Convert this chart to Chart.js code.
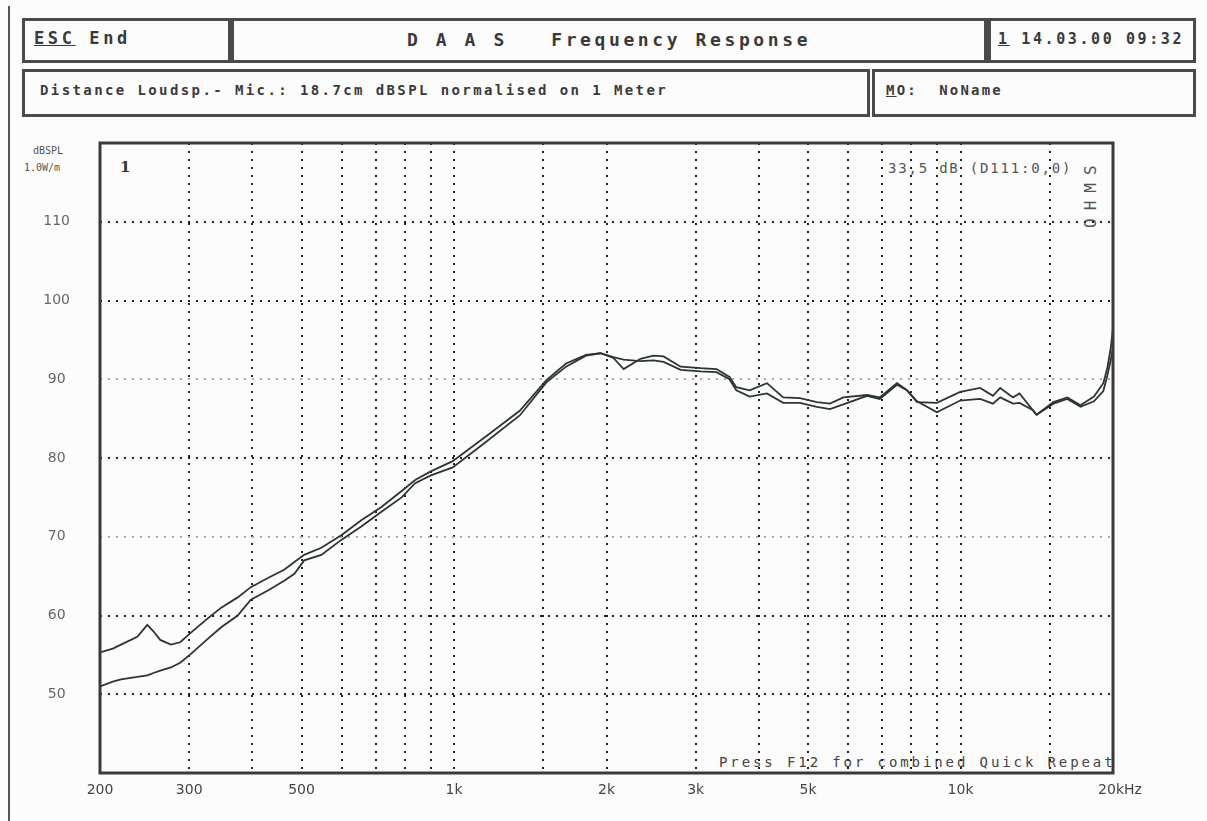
<!DOCTYPE html>
<html>
<head>
<meta charset="utf-8">
<script src="https://cdn.jsdelivr.net/npm/chart.js@4.4.1/dist/chart.umd.min.js"></script>
<style>
  html, body { margin:0; padding:0; background:#fcfcfc; }
  #wrap { position:relative; width:1207px; height:821px; overflow:hidden; font-family:"DejaVu Sans Mono", monospace; color:#3a3a3a; }
  canvas { position:absolute; left:0; top:0; }
  .box { position:absolute; border:3px solid #4a4a4a; box-sizing:border-box; }
  .t { position:absolute; white-space:pre; line-height:1; }
  .outer { position:absolute; left:8px; top:6px; width:2px; height:815px; background:#555; }
</style>
</head>
<body>
<div id="wrap">
  <div class="outer"></div>
  <div class="box" style="left:22px;top:18px;width:211px;height:45px;border-right-width:5px;"></div>
  <div class="box" style="left:231px;top:18px;width:759px;height:45px;border-right-width:6px;"></div>
  <div class="box" style="left:988px;top:18px;width:208px;height:45px;"></div>
  <div class="box" style="left:22px;top:69px;width:848px;height:48px;"></div>
  <div class="box" style="left:872px;top:69px;width:324px;height:48px;"></div>

  <div class="t" style="left:34px;top:30px;font-size:17px;font-weight:bold;letter-spacing:3.6px;"><span style="text-decoration:underline;">ESC</span> End</div>
  <div class="t" id="title" style="left:233px;width:752px;top:31px;font-size:18px;font-weight:bold;letter-spacing:3.6px;text-align:center;">D A A S   Frequency Response</div>
  <div class="t" style="left:998px;top:32px;font-size:15px;font-weight:bold;letter-spacing:2.6px;"><span style="text-decoration:underline;">1</span> 14.03.00 09:32</div>
  <div class="t" style="left:40px;top:83px;font-size:14px;font-weight:bold;letter-spacing:2.4px;">Distance Loudsp.- Mic.: 18.7cm dBSPL normalised on 1 Meter</div>
  <div class="t" style="left:886px;top:83px;font-size:14px;font-weight:bold;letter-spacing:2.2px;"><span style="text-decoration:underline;">M</span>O:  NoName</div>

  <div class="t" style="left:33px;top:146px;font-size:10px;color:#555;">dBSPL</div>
  <div class="t" style="left:24px;top:163px;font-size:10px;color:#555;">1.0W/m</div>
  <div class="t" style="left:120px;top:160px;font-size:15px;font-weight:bold;font-family:'DejaVu Serif',serif;color:#333;">1</div>
  <div class="t" style="left:888px;top:161px;font-size:14px;letter-spacing:1.8px;color:#555;">33,5 dB (D111:0,0)</div>
  <div class="t" style="left:1083px;top:228px;font-size:16px;color:#555;transform:rotate(-90deg);transform-origin:0 0;letter-spacing:8px;">OHMS</div>
  <div class="t" style="left:719px;top:755px;font-size:14px;letter-spacing:2.9px;color:#444;">Press F12 for combined Quick Repeat</div>

  <canvas id="c" width="1207" height="821"></canvas>
</div>
<script>
// ---- data ----
const freqs = [200, 212, 220, 237, 248, 255, 263, 276, 288, 302, 326, 347, 374, 397, 430, 462, 484, 506, 547, 599, 656, 720, 788, 838, 900, 994,
  1154, 1348, 1522, 1664, 1822, 1946, 2064, 2162, 2334, 2476, 2592, 2802, 3070, 3298, 3498, 3608, 3834, 4148, 4466, 4820, 5204, 5524, 5870,
  6538, 6926, 7490, 7838, 8206, 8980, 9984, 10932, 11588, 11976, 12692, 13076, 13880, 14128, 15250, 16250, 17260, 18340, 19140, 19500, 19800, 20000];
const splA = [55.3, 55.8, 56.3, 57.3, 58.8, 58.0, 56.9, 56.3, 56.6, 57.8, 59.6, 61.0, 62.3, 63.6, 64.8, 65.8, 66.8, 67.7, 68.6, 70.2, 72.1, 73.8, 75.8, 77.2, 78.3, 79.6,
  82.7, 86.0, 89.9, 92.0, 93.1, 93.3, 92.7, 91.3, 92.6, 93.0, 92.9, 91.6, 91.4, 91.3, 90.3, 89.0, 88.6, 89.5, 87.7, 87.6, 87.1, 86.9, 87.7,
  88.0, 87.7, 89.5, 88.6, 87.1, 87.0, 88.4, 88.9, 87.9, 88.9, 87.7, 88.2, 86.1, 85.5, 87.1, 87.7, 86.7, 87.8, 89.5, 91.5, 94.0, 96.5];
const splB = [51.0, 51.6, 51.9, 52.2, 52.4, 52.7, 53.0, 53.4, 54.0, 55.1, 57.0, 58.5, 60.0, 62.0, 63.2, 64.4, 65.3, 67.0, 67.7, 69.6, 71.3, 73.2, 75.0, 76.8, 77.8, 78.8,
  82.0, 85.4, 89.6, 91.6, 93.0, 93.3, 92.8, 92.5, 92.3, 92.4, 92.2, 91.2, 91.0, 90.9, 90.0, 88.6, 87.8, 88.2, 87.0, 87.0, 86.5, 86.2, 86.8,
  87.9, 87.5, 89.3, 88.6, 87.2, 85.8, 87.3, 87.5, 86.9, 87.7, 86.9, 87.0, 86.1, 85.5, 86.9, 87.5, 86.5, 87.2, 88.5, 90.5, 92.5, 94.0];
const xGridValues = [200, 300, 400, 500, 600, 700, 800, 900, 1000, 1500, 2000, 3000, 4000, 5000, 6000, 7000, 8000, 9000, 10000, 15000, 20000];
const xTickLabels = {200: '200', 300: '300', 500: '500', 1000: '1k', 2000: '2k', 3000: '3k', 5000: '5k', 10000: '10k', 20000: '\u2002\u200220kHz'};
const yTickValues = [40, 50, 60, 70, 80, 90, 100, 110, 120];

const ptsA = freqs.map((f, i) => ({x: f, y: splA[i]}));
const ptsB = freqs.map((f, i) => ({x: f, y: splB[i]}));

const frame = {
  id: 'frame',
  afterDatasetsDraw(chart) {
    const {ctx, chartArea: a} = chart;
    ctx.save();
    ctx.strokeStyle = '#3a3a3a';
    ctx.lineWidth = 3;
    ctx.strokeRect(a.left, a.top, a.right - a.left, a.bottom - a.top);
    ctx.restore();
  }
};

new Chart(document.getElementById('c'), {
  type: 'line',
  data: {
    datasets: [
      {data: ptsA, borderColor: '#2c3436', borderWidth: 1.8, pointRadius: 0, tension: 0, fill: false},
      {data: ptsB, borderColor: '#2c3436', borderWidth: 1.8, pointRadius: 0, tension: 0, fill: false}
    ]
  },
  options: {
    responsive: false,
    devicePixelRatio: 1,
    animation: false,
    layout: {padding: {left: 0, right: 94, top: 143, bottom: 12}},
    plugins: {legend: {display: false}, tooltip: {enabled: false}},
    scales: {
      x: {
        type: 'logarithmic', min: 200, max: 20000,
        afterBuildTicks: s => { s.ticks = xGridValues.map(v => ({value: v})); },
        afterFit: s => { s.height = 36; },
        ticks: {autoSkip: false, maxRotation: 0, minRotation: 0, padding: 9,
          callback: v => xTickLabels[v] || '',
          color: '#444', font: {family: 'DejaVu Sans', size: 14}},
        grid: {drawTicks: false, lineWidth: 2,
          color: c => (c.tick && (c.tick.value === 200 || c.tick.value === 20000)) ? 'rgba(0,0,0,0)' : '#222'},
        border: {display: false, dash: [2, 6]}
      },
      y: {
        min: 40, max: 120,
        afterBuildTicks: s => { s.ticks = yTickValues.map(v => ({value: v})); },
        afterFit: s => { s.width = 100; },
        ticks: {crossAlign: 'center', padding: 30,
          callback: v => (v === 40 || v === 120) ? '' : String(v),
          color: '#666', font: {family: 'DejaVu Sans', size: 14}},
        grid: {drawTicks: false, lineWidth: 2,
          color: c => {
            const v = c.tick && c.tick.value;
            if (v === 40 || v === 120) return 'rgba(0,0,0,0)';
            if (v === 70 || v === 90) return '#aaa';
            return '#222';
          }},
        border: {display: false, dash: [2, 6]}
      }
    }
  },
  plugins: [frame]
});
</script>
</body>
</html>
